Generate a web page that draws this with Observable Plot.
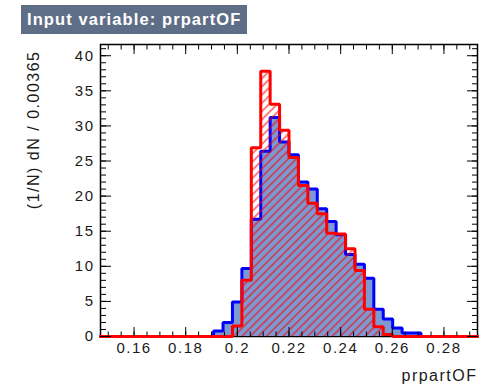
<!DOCTYPE html>
<html><head><meta charset="utf-8">
<script src="https://cdn.jsdelivr.net/npm/d3@7"></script>
<script src="https://cdn.jsdelivr.net/npm/@observablehq/plot@0.6"></script>
<style>
body{margin:0;background:#fff;}
#wrap{position:relative;width:483px;height:390px;overflow:hidden;background:#fff;}
#title{position:absolute;left:21px;top:5px;width:226px;height:29px;background:#5f6e87;color:#fff;font:bold 16.5px "Liberation Sans",Arial,sans-serif;letter-spacing:1.1px;line-height:29px;padding-left:6px;box-sizing:border-box;white-space:nowrap;}
#wrap svg{position:absolute;left:0;top:0;}
#wrap svg text{letter-spacing:1.5px;}
</style></head><body>
<div id="wrap"><div id="title">Input variable: prpartOF</div></div>
<script>
// Binning: 40 bins of width 0.00365 starting at 0.147
const xMin = 0.147;
const binWidth = 0.00365;
const nBins = 40;

// Signal (blue, filled) per-bin values, (1/N) dN
const signal = [
  0, 0, 0, 0, 0, 0, 0, 0, 0, 0, 0, 0,
  0.8, 2.0, 4.9, 9.7, 16.7, 26.4, 31.2, 27.7, 25.9, 22.0,
  21.0, 18.2, 16.4, 14.5, 11.7, 10.3, 8.3, 3.9, 2.5, 1.2,
  0.5, 0.5,
  0, 0, 0, 0, 0, 0
];
// Background (red, hatched) per-bin values
const background = [
  0, 0, 0, 0, 0, 0, 0, 0, 0, 0, 0, 0, 0, 0,
  1.5, 8.0, 26.9, 37.8, 33.1, 29.4, 25.5, 21.5, 19.0, 17.5,
  14.7, 14.6, 12.5, 9.4, 3.9, 1.4, 0.3,
  0, 0, 0, 0, 0, 0, 0, 0, 0
];

const xTickLabels = [0.16, 0.18, 0.2, 0.22, 0.24, 0.26, 0.28];
const yTickLabels = [0, 5, 10, 15, 20, 25, 30, 35, 40];
const xMinorTicks = d3.range(30, 59).map(k => k * 0.005);
const yMinorTicks = d3.range(0, 42);
const yMax = 41.6;

const xLabel = "prpartOF";
const yLabel = "(1/N) dN / 0.00365";

function steps(vals) {
  const pts = [{x: xMin, y: 0}];
  vals.forEach((v, i) => {
    pts.push({x: xMin + i * binWidth, y: v}, {x: xMin + (i + 1) * binWidth, y: v});
  });
  pts.push({x: xMin + vals.length * binWidth, y: 0});
  return pts;
}
const sigPts = steps(signal);
const bkgPts = steps(background);

const defsMark = () => {
  const defs = d3.create("svg:defs");
  const p = defs.append("pattern")
    .attr("id", "hatch")
    .attr("patternUnits", "userSpaceOnUse")
    .attr("width", 5.8).attr("height", 5.8)
    .attr("patternTransform", "rotate(45)");
  p.append("line")
    .attr("x1", 2.9).attr("y1", 0).attr("x2", 2.9).attr("y2", 5.8)
    .attr("stroke", "#ff0000").attr("stroke-width", 1);
  return defs.node();
};

const fmt = d => String(+d.toFixed(2));

const plot = Plot.plot({
  width: 483, height: 390,
  marginLeft: 100, marginRight: 6, marginTop: 44, marginBottom: 54,
  x: {domain: [xMin, xMin + nBins * binWidth]},
  y: {domain: [0, yMax]},
  style: {fontFamily: '"Liberation Sans", Arial, sans-serif', fontSize: "15px", color: "#1a1a1a", background: "transparent"},
  marks: [
    defsMark,
    Plot.frame({stroke: "#000", strokeWidth: 1.5}),
    Plot.areaY(sigPts, {x: "x", y1: 0, y2: "y", fill: "#7d99d1", clip: true}),
    Plot.line(sigPts, {x: "x", y: "y", stroke: "#0000ff", strokeWidth: 3, strokeLinejoin: "miter", curve: "linear"}),
    Plot.areaY(bkgPts, {x: "x", y1: 0, y2: "y", fill: "url(#hatch)", clip: true}),
    Plot.line(bkgPts, {x: "x", y: "y", stroke: "#ff0000", strokeWidth: 3, strokeLinejoin: "miter", curve: "linear"}),
    // inward ticks, bottom & top
    Plot.axisX(xMinorTicks, {anchor: "bottom", tickSize: 4.5, dy: -4.5, fill: "none", label: null, stroke: "#000"}),
    Plot.axisX(xTickLabels, {anchor: "bottom", tickSize: 9, dy: -9, fill: "none", label: null, stroke: "#000"}),
    Plot.axisX(xMinorTicks, {anchor: "top", tickSize: 4.5, dy: 4.5, fill: "none", label: null, stroke: "#000"}),
    Plot.axisX(xTickLabels, {anchor: "top", tickSize: 9, dy: 9, fill: "none", label: null, stroke: "#000"}),
    // inward ticks, left & right
    Plot.axisY(yMinorTicks, {anchor: "left", tickSize: 6, dx: 6, fill: "none", label: null, stroke: "#000"}),
    Plot.axisY(yTickLabels, {anchor: "left", tickSize: 11, dx: 11, fill: "none", label: null, stroke: "#000"}),
    Plot.axisY(yMinorTicks, {anchor: "right", tickSize: 6, dx: -6, fill: "none", label: null, stroke: "#000"}),
    Plot.axisY(yTickLabels, {anchor: "right", tickSize: 11, dx: -11, fill: "none", label: null, stroke: "#000"}),
    // tick labels
    Plot.axisX(xTickLabels, {anchor: "bottom", tickSize: 0, tickPadding: 6, tickFormat: fmt, label: null}),
    Plot.axisY(yTickLabels, {anchor: "left", tickSize: 0, tickPadding: 6, tickFormat: fmt, label: null}),
    // axis titles
    Plot.text([yLabel], {text: d => d, frameAnchor: "top-left", rotate: -90, textAnchor: "end", dx: -73, dy: 6, fontSize: 16}),
    Plot.text([xLabel], {text: d => d, frameAnchor: "bottom-right", textAnchor: "end", dy: 44, fontSize: 16})
  ]
});
document.getElementById("wrap").appendChild(plot);
</script>
</body></html>
